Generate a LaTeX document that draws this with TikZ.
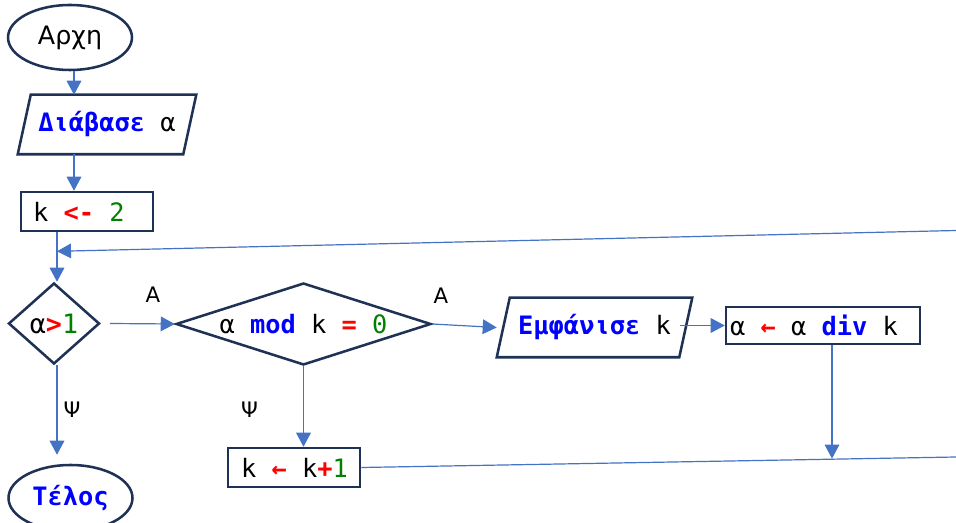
\documentclass[tikz,border=0pt]{standalone}
\usepackage{fontspec}
\usetikzlibrary{shapes.geometric,arrows.meta}
\newfontfamily\codefont{DejaVu Sans Mono}
\newfontfamily\labelfont{DejaVu Sans}
\definecolor{navy}{RGB}{31,50,85}
\definecolor{cblue}{RGB}{68,114,196}
\definecolor{tblue}{RGB}{0,0,255}
\definecolor{tred}{RGB}{255,0,0}
\definecolor{tgreen}{RGB}{0,128,0}
\begin{document}
\begin{tikzpicture}[x=0.75pt,y=-0.75pt,
  shape line/.style={draw=navy,line width=1.9pt},
  codetext/.style={font=\codefont\fontsize{19}{22}\selectfont},
  term/.style={ellipse,shape line,fill=white,inner sep=0pt,minimum width=93pt},
  procbox/.style={rectangle,shape line,fill=white,codetext},
  iobox/.style={rectangle,draw=none,inner sep=0pt,codetext},
  decision/.style={diamond,shape line,fill=white,inner sep=0pt,codetext},
  conn/.style={draw=cblue,line width=0.9pt},
  arr/.style={conn,-{Triangle[width=11pt,length=10.5pt]}},
  lbl/.style={font=\labelfont\fontsize{16}{18}\selectfont}]
\fill[white] (0,0) rectangle (956,523);
\useasboundingbox (0,0) rectangle (956,523);
\clip (0,0) rectangle (956,523);

% nodes
\node[term,minimum height=48.75pt,font=\labelfont\fontsize{19}{22}\selectfont] (start) at (70,37.5) {Αρχη};
\node[iobox,minimum width=133.5pt,minimum height=44.25pt] (read) at (107,124.5)
  {{\bfseries\color{tblue}Διάβασε} α};
\draw[shape line] ([xshift=9.75pt]read.north west) -- (read.north east)
  -- ([xshift=-9.75pt]read.south east) -- (read.south west) -- cycle;
\node[procbox,minimum height=29.25pt,inner xsep=9pt] (init) at (87,211.5)
  {\makebox[81pt][l]{k {\bfseries\color{tred}<-} {\color{tgreen}2}}};
\node[decision,minimum width=68.25pt,minimum height=60.75pt,aspect=1.12,
  font=\codefont\fontsize{20}{22}\selectfont] (cond1) at (54,323.5)
  {α{\bfseries\color{tred}>}{\color{tgreen}1}};
\node[decision,minimum width=191.25pt,minimum height=61.5pt,aspect=3.11] (mod) at (303.5,324)
  {α {\bfseries\color{tblue}mod} k {\bfseries\color{tred}=} {\color{tgreen}0}};
\node[iobox,minimum width=146.25pt,minimum height=44.25pt] (emf) at (594.5,327.5)
  {{\bfseries\color{tblue}Εμφάνισε} k};
\draw[shape line] ([xshift=9.75pt]emf.north west) -- (emf.north east)
  -- ([xshift=-9.75pt]emf.south east) -- (emf.south west) -- cycle;
\node[procbox,minimum height=27.75pt,inner xsep=3pt] (div) at (823,325.5)
  {\makebox[139.5pt][l]{α {\bfseries\color{tred}←} α {\bfseries\color{tblue}div} k}};
\node[procbox,minimum height=29.25pt,inner xsep=9.75pt] (inc) at (294,467.5)
  {\makebox[79.5pt][l]{k {\bfseries\color{tred}←} k{\bfseries\color{tred}+}{\color{tgreen}1}}};
\node[term,minimum height=49.5pt,codetext] (end) at (70.5,498)
  {{\bfseries\color{tblue}Τέλος}};

% labels
\node[lbl] (la1) at (153,295) {Α};
\node[lbl] (la2) at (441,296) {Α};
\node[lbl] (lp1) at (72,410) {Ψ};
\node[lbl] (lp2) at (249.5,410) {Ψ};

% helper coordinates
\coordinate (c1) at (74,0);
\coordinate (j) at (57,251.3);
\coordinate (tr) at (956,230.5);
\coordinate (br) at (956,457);
\coordinate (dj) at (832,458.6);

% connectors
\draw[arr] (start.south -| c1) -- (read.north -| c1);
\draw[arr] (read.south -| c1) -- (init.north -| c1);
\draw[conn] (init.south -| j) -- (j);
\draw[arr] (tr) -- (j);
\draw[arr] (j) -- (j |- cond1.north);
\draw[arr] ([xshift=6.75pt]cond1.east) -- (mod.west);
\draw[arr] (mod.east) -- (emf.west);
\draw[arr] ([xshift=-9pt]emf.east |- div.west) -- (div.west);
\draw[arr] (mod.south) -- (mod.south |- inc.north);
\draw[conn] (inc.east) -- (br);
\draw[arr] (div.south -| dj) -- (dj);
\draw[arr,shorten >=6.75pt] (cond1.south -| j) -- (j |- end.north);
\end{tikzpicture}
\end{document}
